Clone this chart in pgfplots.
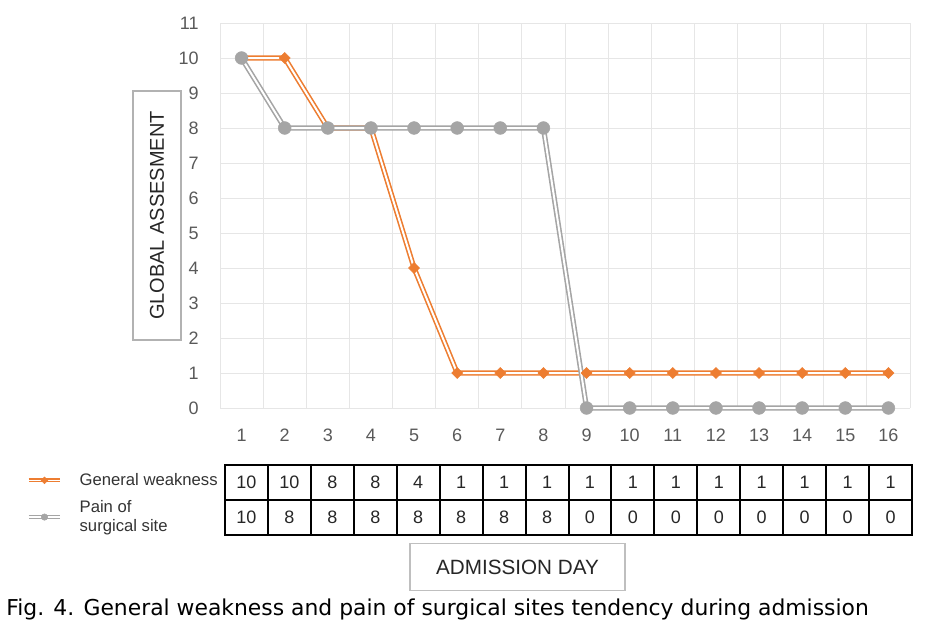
\documentclass[border=0pt]{standalone}
\usepackage{pgfplots}
\pgfplotsset{compat=1.18}
\usepackage{pgfplotstable}
\usepackage{fontspec}
\setmainfont{Liberation Sans}
\newfontfamily\capfont{DejaVu Sans}

\definecolor{gworange}{HTML}{ED7D31}
\definecolor{paingray}{HTML}{A5A5A5}
\definecolor{ticktext}{HTML}{595959}
\definecolor{gridc}{HTML}{E6E6E6}

% day, general weakness, pain of surgical site
\pgfplotstableread{
day gw pain
1  10 10
2  10 8
3  8  8
4  8  8
5  4  8
6  1  8
7  1  8
8  1  8
9  1  0
10 1  0
11 1  0
12 1  0
13 1  0
14 1  0
15 1  0
16 1  0
}\datatable

\pgfplotsset{
  gwstyle/.style={draw=gworange, double=white, line width=1.2pt, double distance=1.5pt,
    mark=square*, mark options={rotate=45, fill=gworange, draw=gworange, line width=0.4pt}},
  painstyle/.style={draw=paingray, double=white, line width=1.2pt, double distance=1.5pt,
    mark=*, mark options={fill=paingray, draw=paingray, line width=0.4pt}},
}

\begin{document}
\begin{tikzpicture}
\useasboundingbox (0,0) rectangle (699pt,-471pt);

% main chart (1px = 0.75pt)
\begin{axis}[
  at={(165pt,-306pt)}, anchor=south west,
  scale only axis, width=517.5pt, height=288.75pt,
  xmin=0.5, xmax=16.5, ymin=0, ymax=11,
  xtick={1,...,16}, ytick={0,...,11},
  minor xtick={0.5,1.5,...,16.5},
  xminorgrids=true, xmajorgrids=false, ymajorgrids=true,
  grid style={draw=gridc, line width=0.75pt},
  axis line style={draw=none},
  major tick length=0pt, minor tick length=0pt,
  tick label style={font=\fontsize{13.5}{16}\selectfont, text=ticktext},
  /pgf/number format/assume math mode=true,
  xticklabel style={yshift=-12.5pt},
  yticklabel style={xshift=-12.5pt},
  ylabel={GLOBAL ASSESMENT},
  ylabel style={at={(rel axis cs:-0.0913,0.5)}, anchor=center,
    draw=black!30, line width=1pt, inner sep=0pt,
    minimum width=186.75pt, minimum height=36pt,
    font=\fontsize{15}{18}\selectfont, text=black!85},
  clip=false,
]
\addplot[gwstyle, mark size=2.9pt] table[x=day, y=gw] {\datatable};
\addplot[painstyle, mark size=4.8pt] table[x=day, y=pain] {\datatable};
\end{axis}

% data table under the chart
\begin{axis}[
  at={(168.75pt,-401.25pt)}, anchor=south west,
  scale only axis, width=515.25pt, height=52.5pt,
  xmin=0.5, xmax=16.5, ymin=0, ymax=2,
  xtick={1.5,2.5,...,15.5}, ytick={1},
  xticklabels={}, yticklabels={},
  xmajorgrids=true, ymajorgrids=true,
  grid style={draw=black, line width=1.5pt},
  axis line style={draw=black, line width=1.5pt},
  major tick length=0pt,
  point meta=explicit symbolic,
  nodes near coords,
  every node near coord/.append style={anchor=center, font=\fontsize{13.5}{16}\selectfont, text=black!85},
  xlabel={ADMISSION DAY},
  xlabel style={at={(rel axis cs:0.4258,0)}, anchor=north, yshift=-6pt,
    draw=black!25, line width=1pt, inner sep=0pt,
    minimum width=161.25pt, minimum height=35.25pt,
    font=\fontsize{15.5}{18}\selectfont, text=black!85},
  legend style={at={(rel axis cs:0,1)}, anchor=north west, xshift=-152pt, yshift=-2pt,
    draw=none, fill=none, font=\fontsize{12.5}{14}\selectfont, text=black!80,
    cells={align=left}, row sep=6pt, column sep=11pt},
  legend cell align=left,
  legend image code/.code={
    \draw[mark repeat=2, mark phase=2, #1] plot coordinates {(0cm,0cm) (0.42cm,0cm) (0.84cm,0cm)};},
  clip=false,
]
\addlegendimage{gwstyle, line width=0.9pt, double distance=1.1pt, mark size=1.8pt}
\addlegendentry{General weakness}
\addlegendimage{painstyle, line width=0.9pt, double distance=1.1pt, mark size=2.4pt}
\addlegendentry{Pain of\\surgical site}
\addplot[draw=none, mark=none] table[x=day, y expr=1.5, meta=gw] {\datatable};
\addplot[draw=none, mark=none] table[x=day, y expr=0.5, meta=pain] {\datatable};
\node[anchor=west, font=\capfont\fontsize{16.4}{20}\selectfont, text=black, inner sep=0pt]
  at (rel axis cs:-0.3187,-1.06) {Fig. 4. General weakness and pain of surgical sites tendency during admission};
\end{axis}
\end{tikzpicture}
\end{document}
